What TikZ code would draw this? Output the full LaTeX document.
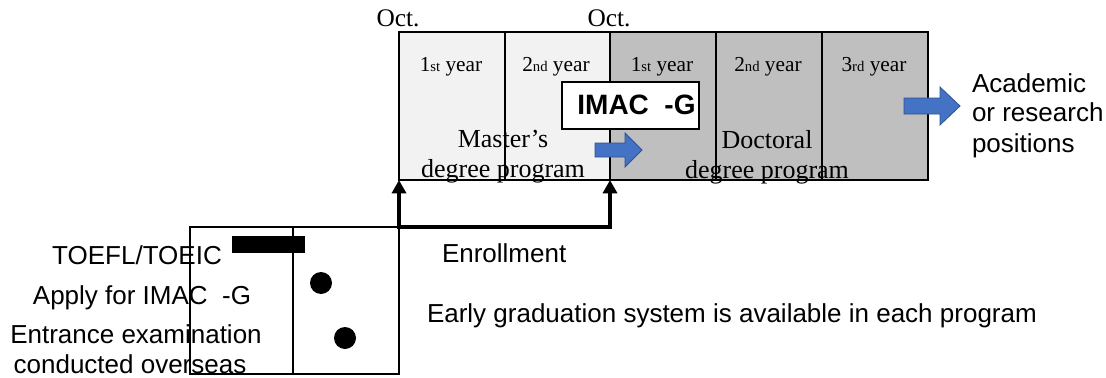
\documentclass[tikz,border=0pt]{standalone}
\usepackage{fontspec}
\setmainfont{Liberation Serif}
\setsansfont{Liberation Sans}
\usetikzlibrary{arrows.meta,positioning}

\definecolor{mastergray}{HTML}{F2F2F2}
\definecolor{doctorgray}{HTML}{BFBFBF}
\definecolor{flowblue}{HTML}{4472C4}
\definecolor{flowedge}{HTML}{2F528F}

\begin{document}
\begin{tikzpicture}[x=0.75pt,y=-0.75pt,
  every node/.style={inner sep=0pt,outer sep=0pt},
  octlbl/.style={font=\fontsize{19}{21}\selectfont,anchor=base},
  yearlbl/.style={font=\fontsize{16}{18}\selectfont,anchor=base},
  proglbl/.style={font=\fontsize{19.5}{22}\selectfont,anchor=base},
  sidenote/.style={font=\sffamily\fontsize{19.5}{22}\selectfont,anchor=base},
  gridline/.style={line width=1.2pt},
  enroll/.style={line width=3pt,{Triangle[width=10.5pt,length=10pt]}-{Triangle[width=10.5pt,length=10pt]}},
  blockarrow/.style={fill=flowblue,draw=flowedge,line width=0.6pt}]
\useasboundingbox (0,0) rectangle (1106,378);
\fill[white] (0,0) rectangle (1106,378);
% programme grid
\coordinate (mtl) at (399,32);
\coordinate (mbl) at (399,180);
\coordinate (dtl) at (610,32);
\coordinate (mbr) at (610,180);
\coordinate (dbr) at (928,180);
\fill[mastergray] (mtl) rectangle (mbr);
\fill[doctorgray] (dtl) rectangle (dbr);
\draw[gridline] (mtl) rectangle (dbr);
\foreach \x in {505,610,716,822} \draw[gridline] (\x,32) -- (\x,180);
\node[octlbl] (oct1) at (398,27) {Oct.};
\node[octlbl] (oct2) at (609,27) {Oct.};
\foreach \x/\n/\s [count=\i] in {451/1/st,556/2/nd,662/1/st,768/2/nd,874/3/rd}
  \node[yearlbl] (year\i) at (\x,72) {\n{\fontsize{11}{11}\selectfont\s} year};
% IMAC-G box
\filldraw[fill=white,draw=black,line width=1pt] (562,82) rectangle (699,129);
\node[font=\sffamily\bfseries\fontsize{21}{23}\selectfont,anchor=base] (imac) at (636.5,114) {IMAC\ \ -G};
% blue arrows
\draw[blockarrow] (595,143) -- (625,143) -- (625,133) -- (642,150) -- (625,167) -- (625,157) -- (595,157) -- cycle;
\draw[blockarrow] (904,98) -- (940,98) -- (940,87) -- (960,106) -- (940,125) -- (940,114) -- (904,114) -- cycle;
\node[proglbl] (mas1) at (503,147) {Master’s};
\node[proglbl] (mas2) at (503,177) {degree program};
\node[proglbl] (doc1) at (767,148) {Doctoral};
\node[proglbl] (doc2) at (767,178) {degree program};
\node[sidenote,anchor=base west] (acad1) at (972,93) {Academic};
\node[sidenote,anchor=base west] (acad2) at (972,122) {or research};
\node[sidenote,anchor=base west] (acad3) at (972,152) {positions};
% preparation box
\coordinate (ptl) at (190,227);
\coordinate (ptr) at (399,227);
\coordinate (pbr) at (399,374);
\draw[gridline] (ptl) rectangle (pbr);
\draw[gridline] (293,227) -- (293,374);
\fill (232,236) rectangle (305,253);
\fill (321,283) circle (8.25pt);
\fill (345,338) circle (8.25pt);
\node[sidenote] (toefl) at (137,264) {TOEFL/TOEIC};
\node[sidenote] (apply) at (142,304) {Apply for IMAC\ \ -G};
\node[sidenote] (exam1) at (136,343) {Entrance examination};
\node[sidenote] (exam2) at (130,373) {conducted overseas};
% enrollment
\draw[enroll] (mbl) -- (ptr) -| (mbr);
\node[sidenote,anchor=base west] (enrol) at (442,262) {Enrollment};
\node[sidenote,anchor=base west] (early) at (427,322) {Early graduation system is available in each program};
\end{tikzpicture}
\end{document}
